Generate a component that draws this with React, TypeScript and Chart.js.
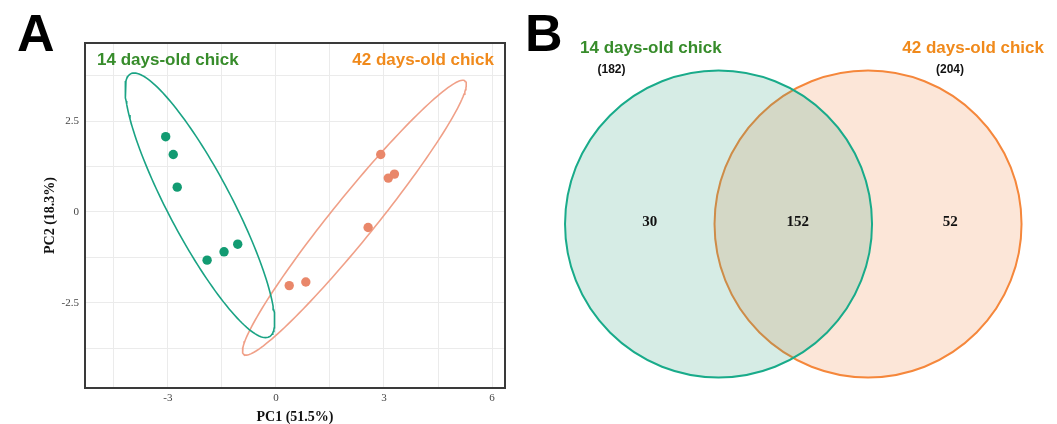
import React, { useEffect, useRef } from 'react';
import { Chart, registerables } from 'chart.js';

Chart.register(...registerables);

// ---------- data ----------
const GROUPS = ['14 days-old chick', '42 days-old chick'];
const PC1_14 = [-3.06, -2.85, -2.74, -1.91, -1.44, -1.06];
const PC2_14 = [2.07, 1.58, 0.68, -1.33, -1.1, -0.89];
const PC1_42 = [2.91, 3.12, 3.29, 2.56, 0.37, 0.83];
const PC2_42 = [1.58, 0.93, 1.04, -0.43, -2.03, -1.93];
// confidence ellipses: [centre x, centre y, semi-major, semi-minor, angle (deg)]
const ELLIPSE_14 = [-2.11, 0.18, 4.1, 0.88, -62];
const ELLIPSE_42 = [2.18, -0.16, 4.86, 0.6, 50.8];

const X_GRID = [-4.5, -3, -1.5, 0, 1.5, 3, 4.5, 6];
const X_TICK_VALUES = [-3, 0, 3, 6];
const X_TICK_LABELS = ['-3', '0', '3', '6'];
const Y_GRID = [-3.75, -2.5, -1.25, 0, 1.25, 2.5, 3.75];
const Y_TICK_VALUES = [-2.5, 0, 2.5];
const Y_TICK_LABELS = ['-2.5', '0', '2.5'];
const X_TITLE = 'PC1 (51.5%)';
const Y_TITLE = 'PC2 (18.3%)';

const VENN_TOTALS = [182, 204];
const VENN_COUNTS = [30, 152, 52]; // only 14d, shared, only 42d

// ---------- layout / style ----------
const X_RANGE = [-5.3, 6.36];
const Y_RANGE = [-4.85, 4.65];
const VENN_CENTERS = [0, 1];
const VENN_X_RANGE = [-1.328, 2.264];
const VENN_Y_RANGE = [-0.893, 1];
const VENN_RADIUS = 153.5;
const VENN_LABEL_X = [-0.46, 0.53, 1.55];

const GREEN_TEXT = '#378c2b';
const ORANGE_TEXT = '#f08a1c';
const SANS = '"Liberation Sans", Arial, Helvetica, sans-serif';
const SERIF = '"Liberation Serif", "Times New Roman", serif';

function ellipsePoints(e: number[], n = 160) {
  const [cx, cy, a, b, deg] = e;
  const phi = (deg * Math.PI) / 180;
  const pts: { x: number; y: number }[] = [];
  for (let i = 0; i <= n; i++) {
    const t = (i / n) * 2 * Math.PI;
    const ct = Math.cos(t);
    const st = Math.sin(t);
    pts.push({
      x: cx + a * ct * Math.cos(phi) - b * st * Math.sin(phi),
      y: cy + a * ct * Math.sin(phi) + b * st * Math.cos(phi),
    });
  }
  return pts;
}

const boxPlugin = {
  id: 'box',
  afterDatasetsDraw(chart: any) {
    const { ctx, chartArea } = chart;
    ctx.save();
    ctx.strokeStyle = '#3a3a3a';
    ctx.lineWidth = 2;
    ctx.strokeRect(chartArea.left, chartArea.top, chartArea.right - chartArea.left, chartArea.bottom - chartArea.top);
    ctx.restore();
  },
};

const vennLabelPlugin = {
  id: 'vennLabels',
  afterDatasetsDraw(chart: any) {
    const { ctx } = chart;
    const xs = chart.scales.x;
    const ys = chart.scales.y;
    ctx.save();
    ctx.fillStyle = '#111';
    ctx.font = `bold 15px ${SERIF}`;
    ctx.textAlign = 'center';
    ctx.textBaseline = 'middle';
    VENN_COUNTS.forEach((c, i) => {
      ctx.fillText(String(c), xs.getPixelForValue(VENN_LABEL_X[i]), ys.getPixelForValue(0) - 2);
    });
    ctx.restore();
  },
};

export default function App() {
  const pcaRef = useRef<HTMLCanvasElement>(null);
  const vennRef = useRef<HTMLCanvasElement>(null);

  useEffect(() => {
    const tickFont = { family: SERIF, size: 11 };
    const titleFont = { family: SERIF, size: 14, weight: 'bold' as const, lineHeight: 1 };
    const pca = new Chart(pcaRef.current as HTMLCanvasElement, {
      type: 'scatter',
      data: {
        datasets: [
          {
            label: GROUPS[0],
            data: PC1_14.map((x, i) => ({ x, y: PC2_14[i] })),
            backgroundColor: '#129b72',
            borderColor: '#129b72',
            pointRadius: 4.7,
            borderWidth: 0,
          },
          {
            label: GROUPS[1],
            data: PC1_42.map((x, i) => ({ x, y: PC2_42[i] })),
            backgroundColor: '#e9876a',
            borderColor: '#e9876a',
            pointRadius: 4.7,
            borderWidth: 0,
          },
          {
            label: 'ellipse ' + GROUPS[0],
            data: ellipsePoints(ELLIPSE_14),
            showLine: true,
            pointRadius: 0,
            borderColor: '#1aa384',
            borderWidth: 1.6,
            fill: false,
            tension: 0,
          } as any,
          {
            label: 'ellipse ' + GROUPS[1],
            data: ellipsePoints(ELLIPSE_42),
            showLine: true,
            pointRadius: 0,
            borderColor: '#f0a088',
            borderWidth: 1.6,
            fill: false,
            tension: 0,
          } as any,
        ],
      },
      options: {
        responsive: false,
        animation: false,
        events: [],
        layout: { padding: { top: 43, right: 15, left: 0, bottom: 0 } },
        plugins: { legend: { display: false }, tooltip: { enabled: false } },
        scales: {
          x: {
            type: 'linear',
            min: X_RANGE[0],
            max: X_RANGE[1],
            afterBuildTicks: (s: any) => {
              s.ticks = X_GRID.map((v) => ({ value: v }));
            },
            afterFit: (s: any) => {
              s.height = 36;
            },
            grid: { color: '#ebebeb', lineWidth: 1, drawTicks: false },
            border: { display: false },
            ticks: {
              padding: 4,
              color: '#444',
              font: tickFont,
              maxRotation: 0,
              autoSkip: false,
              callback: (v: any) => {
                const i = X_TICK_VALUES.indexOf(Number(v));
                return i >= 0 ? X_TICK_LABELS[i] : '';
              },
            },
            title: { display: true, text: X_TITLE, color: '#111', font: titleFont, padding: { top: 0, bottom: 0 } },
          },
          y: {
            type: 'linear',
            min: Y_RANGE[0],
            max: Y_RANGE[1],
            afterBuildTicks: (s: any) => {
              s.ticks = Y_GRID.map((v) => ({ value: v }));
            },
            afterFit: (s: any) => {
              s.width = 85;
            },
            grid: { color: '#ebebeb', lineWidth: 1, drawTicks: false },
            border: { display: false },
            ticks: {
              padding: 6,
              color: '#444',
              font: tickFont,
              autoSkip: false,
              callback: (v: any) => {
                const i = Y_TICK_VALUES.indexOf(Number(v));
                return i >= 0 ? Y_TICK_LABELS[i] : '';
              },
            },
            title: { display: true, text: Y_TITLE, color: '#111', font: titleFont, padding: { top: 43, bottom: 0 } },
          },
        },
      },
      plugins: [boxPlugin],
    });

    const venn = new Chart(vennRef.current as HTMLCanvasElement, {
      type: 'bubble',
      data: {
        datasets: [
          {
            label: GROUPS[0],
            data: [{ x: VENN_CENTERS[0], y: 0, r: VENN_RADIUS }],
            backgroundColor: 'rgba(50,160,125,0.2)',
            borderColor: '#19ab8a',
            borderWidth: 2,
            clip: false,
          } as any,
          {
            label: GROUPS[1],
            data: [{ x: VENN_CENTERS[1], y: 0, r: VENN_RADIUS }],
            backgroundColor: 'rgba(238,128,60,0.2)',
            borderColor: '#f5873b',
            borderWidth: 2,
            clip: false,
          } as any,
        ],
      },
      options: {
        responsive: false,
        animation: false,
        events: [],
        layout: { padding: 0, autoPadding: false },
        plugins: { legend: { display: false }, tooltip: { enabled: false } },
        scales: {
          x: { display: false, min: VENN_X_RANGE[0], max: VENN_X_RANGE[1] },
          y: { display: false, min: VENN_Y_RANGE[0], max: VENN_Y_RANGE[1] },
        },
      },
      plugins: [vennLabelPlugin],
    });

    return () => {
      pca.destroy();
      venn.destroy();
    };
  }, []);

  const abs = (o: React.CSSProperties): React.CSSProperties => ({ position: 'absolute', whiteSpace: 'nowrap', margin: 0, ...o });

  return (
    <div style={{ position: 'absolute', left: 0, top: 0, width: 1057, height: 424, background: '#fff', overflow: 'hidden' }}>
      <canvas ref={pcaRef} width={520} height={424} style={{ position: 'absolute', left: 0, top: 0, width: 520, height: 424 }} />
      <canvas ref={vennRef} width={537} height={424} style={{ position: 'absolute', left: 520, top: 0, width: 537, height: 424 }} />

      <div style={abs({ left: 17, top: 7, fontFamily: SANS, fontWeight: 'bold', fontSize: 52, lineHeight: '52px', color: '#000' })}>A</div>
      <div style={abs({ left: 525, top: 7, fontFamily: SANS, fontWeight: 'bold', fontSize: 52, lineHeight: '52px', color: '#000' })}>B</div>

      <div style={abs({ left: 97, top: 51, fontFamily: SANS, fontWeight: 'bold', fontSize: 17, lineHeight: '17px', color: GREEN_TEXT })}>{GROUPS[0]}</div>
      <div style={abs({ left: 0, width: 494, top: 51, textAlign: 'right', fontFamily: SANS, fontWeight: 'bold', fontSize: 17, lineHeight: '17px', color: ORANGE_TEXT })}>{GROUPS[1]}</div>

      <div style={abs({ left: 580, top: 39, fontFamily: SANS, fontWeight: 'bold', fontSize: 17, lineHeight: '17px', color: GREEN_TEXT })}>{GROUPS[0]}</div>
      <div style={abs({ left: 561.5, width: 100, top: 63, textAlign: 'center', fontFamily: SANS, fontWeight: 'bold', fontSize: 12, lineHeight: '12px', color: '#111' })}>({VENN_TOTALS[0]})</div>

      <div style={abs({ left: 0, width: 1044, top: 39, textAlign: 'right', fontFamily: SANS, fontWeight: 'bold', fontSize: 17, lineHeight: '17px', color: ORANGE_TEXT })}>{GROUPS[1]}</div>
      <div style={abs({ left: 900, width: 100, top: 63, textAlign: 'center', fontFamily: SANS, fontWeight: 'bold', fontSize: 12, lineHeight: '12px', color: '#111' })}>({VENN_TOTALS[1]})</div>
    </div>
  );
}
